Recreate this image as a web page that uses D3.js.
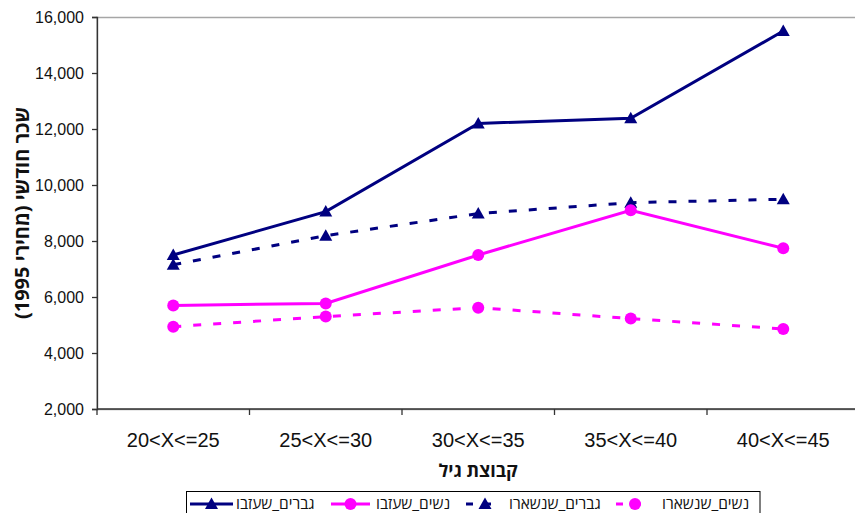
<!DOCTYPE html>
<html>
<head>
<meta charset="utf-8">
<script src="https://cdn.jsdelivr.net/npm/d3@7"></script>
<style>
  html, body { margin: 0; padding: 0; background: #fff; }
  svg { display: block; font-family: "Liberation Sans", Arial, sans-serif; }
  .heb { font-family: "Open Sans", "Noto Sans", sans-serif; }
</style>
</head>
<body>
<svg id="chart" width="855" height="513"></svg>
<script>
// Age groups on the x axis
const categories = ["20<X<=25", "25<X<=30", "30<X<=35", "35<X<=40", "40<X<=45"];

// Monthly wage (1995 prices) per age group
const menLeft     = [7500, 9050, 12200, 12380, 15500];
const womenLeft   = [5700, 5770, 7500, 9100, 7740];
const menStayed   = [7150, 8190, 8980, 9370, 9490];
const womenStayed = [4940, 5300, 5620, 5230, 4860];

const yTicks = [2000, 4000, 6000, 8000, 10000, 12000, 14000, 16000];

const seriesNames = ["גברים_שעזבו", "נשים_שעזבו", "גברים_שנשארו", "נשים_שנשארו"];

const NAVY = "#000080", MAGENTA = "#FF00FF";
const DASH = "8,12";

const series = [
  { name: seriesNames[0], values: menLeft,     color: NAVY,    dash: null, marker: "triangle" },
  { name: seriesNames[1], values: womenLeft,   color: MAGENTA, dash: null, marker: "circle" },
  { name: seriesNames[2], values: menStayed,   color: NAVY,    dash: DASH, marker: "triangle" },
  { name: seriesNames[3], values: womenStayed, color: MAGENTA, dash: DASH, marker: "circle" }
];

const svg = d3.select("#chart");
const plot = { left: 97, right: 859.5, top: 17, bottom: 409 };

const x = d3.scaleBand().domain(categories).range([plot.left, plot.right]).padding(0);
const y = d3.scaleLinear().domain([2000, 16000]).range([plot.bottom, plot.top]);

// Plot area frame (only the top edge shows past the axes)
svg.append("rect")
  .attr("x", plot.left).attr("y", plot.top + 0.5)
  .attr("width", plot.right - plot.left).attr("height", plot.bottom - plot.top)
  .attr("fill", "none").attr("stroke", "#a6a6a6").attr("stroke-width", 1.5);

// Y axis
const yAxis = d3.axisLeft(y).tickValues(yTicks).tickSize(5).tickPadding(8)
  .tickFormat(d3.format(","));
const gy = svg.append("g").attr("transform", `translate(${plot.left},0)`).call(yAxis);
gy.select(".domain").attr("stroke", "#333").attr("stroke-width", 1.3);
gy.selectAll(".tick line").attr("stroke", "#333").attr("stroke-width", 1.3);
gy.selectAll(".tick text").attr("font-size", 16).attr("fill", "#111")
  .attr("font-family", "Liberation Sans, Arial, sans-serif");

// X axis: ticks sit on the band edges, labels in the band centres
const gx = svg.append("g").attr("transform", `translate(0,${plot.bottom})`);
gx.append("line").attr("x1", plot.left).attr("x2", plot.right)
  .attr("stroke", "#333").attr("stroke-width", 1.3);
const edges = categories.map(c => x(c)).concat([plot.right]);
gx.selectAll("line.tick").data(edges).join("line").attr("class", "tick")
  .attr("x1", d => d).attr("x2", d => d).attr("y1", 0).attr("y2", 6)
  .attr("stroke", "#333").attr("stroke-width", 1.3);
gx.selectAll("text").data(categories).join("text")
  .attr("x", d => x(d) + x.bandwidth() / 2).attr("y", 38)
  .attr("text-anchor", "middle").attr("font-size", 20).attr("fill", "#111")
  .text(d => d);

// Axis titles
svg.append("text").attr("class", "heb")
  .attr("x", 478).attr("y", 477).attr("text-anchor", "middle")
  .attr("font-size", 18).attr("font-weight", "bold").attr("fill", "#111")
  .text("קבוצת גיל");
svg.append("text").attr("class", "heb")
  .attr("transform", `translate(29,${(plot.top + plot.bottom) / 2}) rotate(-90)`)
  .attr("text-anchor", "middle")
  .attr("font-size", 20).attr("font-weight", "bold").attr("fill", "#111")
  .text("שכר חודשי (מחירי 1995)");

// Markers
const triPath = "M0,-6.5L6.5,5L-6.5,5Z";
function drawMarker(g, type, color, cx, cy) {
  if (type === "triangle") {
    g.append("path").attr("d", triPath)
      .attr("transform", `translate(${cx},${cy})`).attr("fill", color);
  } else {
    g.append("circle").attr("cx", cx).attr("cy", cy).attr("r", 6).attr("fill", color);
  }
}

const line = d3.line()
  .x((d, i) => x(categories[i]) + x.bandwidth() / 2)
  .y(d => y(d));

// Draw stayed series first, left series above
const order = [3, 2, 1, 0];
order.forEach(k => {
  const s = series[k];
  const g = svg.append("g");
  g.append("path").datum(s.values)
    .attr("d", line).attr("fill", "none")
    .attr("stroke", s.color).attr("stroke-width", 3)
    .attr("stroke-dasharray", s.dash);
  s.values.forEach((v, i) => {
    drawMarker(g, s.marker, s.color, x(categories[i]) + x.bandwidth() / 2, y(v));
  });
});

// Legend
const legend = svg.append("g");
legend.append("rect").attr("x", 186.5).attr("y", 491.5)
  .attr("width", 573.5).attr("height", 40)
  .attr("fill", "#fff").attr("stroke", "#000").attr("stroke-width", 1);

const legendItems = [
  { s: series[0], x0: 190, x1: 233, tx: 236 },
  { s: series[1], x0: 331, x1: 370, tx: 376 },
  { s: series[2], x0: 466, x1: 500, tx: 509 },
  { s: series[3], x0: 616, x1: 650, tx: 662 }
];
const ly = 504;
legendItems.forEach(it => {
  const s = it.s;
  legend.append("line")
    .attr("x1", it.x0).attr("x2", it.x1).attr("y1", ly).attr("y2", ly)
    .attr("stroke", s.color).attr("stroke-width", 3)
    .attr("stroke-dasharray", s.dash ? "7,11" : null);
  drawMarker(legend, s.marker, s.color, (it.x0 + it.x1) / 2 + (s.dash ? 2 : 0), ly);
  legend.append("text").attr("class", "heb").attr("x", it.tx).attr("y", ly + 5)
    .attr("text-anchor", "start").attr("direction", "ltr")
    .attr("font-size", 15.5).attr("fill", "#111")
    .text(s.name);
});
</script>
</body>
</html>
